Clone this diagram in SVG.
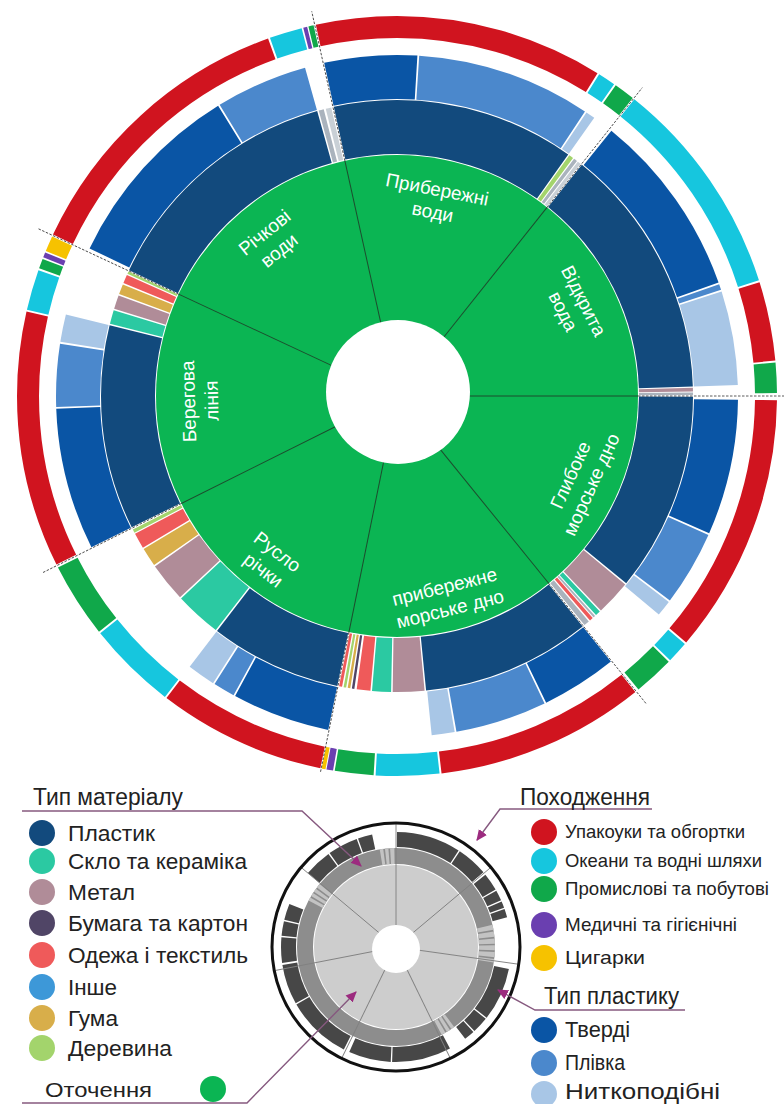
<svg xmlns="http://www.w3.org/2000/svg" width="784" height="1104" viewBox="0 0 784 1104">
<defs>
<style>
circle.m,circle.p,circle.o{fill:none}
.m{stroke-width:54}
.p{stroke-width:44}
.o{stroke-width:22}
.pl{stroke:#124a7d}.gl{stroke:#2bc9a2}.me{stroke:#b08c98}.pa{stroke:#504566}
.tx{stroke:#ef5a5a}.ru{stroke:#d8ae4a}.wo{stroke:#a3d46c}.sv{stroke:#aab3bd}.sv2{stroke:#c9d0d6}
.hd{stroke:#0a55a5}.fi{stroke:#4b88cc}.th{stroke:#a8c6e6}
.pk{stroke:#d0141f}.oc{stroke:#16c6de}.ih{stroke:#10a84a}.md{stroke:#6a3fb0}.cg{stroke:#f6c200}
.lbl text{font-family:"Liberation Sans",Arial,sans-serif;font-size:19px;fill:#fff;text-anchor:middle}
.div-in{stroke:#1d4d2e;stroke-width:1}
.div-out{stroke:#333;stroke-width:0.8;stroke-dasharray:2.5 1.5}
.mini circle.k{fill:none;stroke:#474747;stroke-width:15}
.mini circle.s{fill:none;stroke:#c3c3c3;stroke-width:16}
.leg{font-family:"Liberation Sans",Arial,sans-serif;fill:#222}
.h{font-size:23px}
.i1{font-size:22px}
.i2{font-size:18.5px}
.i3{font-size:21px}
.ptr{fill:none;stroke:#86597f;stroke-width:1.4}
</style>
<marker id="ah" viewBox="0 0 10 10" refX="9" refY="5" markerWidth="11" markerHeight="11" markerUnits="userSpaceOnUse" orient="auto">
<path d="M0,0.5 L10,5 L0,9.5 z" fill="#9c2b7f"/>
</marker>
</defs>
<rect width="784" height="1104" fill="#fff"/>

<!-- main sunburst: environment / material / plastic type / origin -->
<g id="sunburst" transform="translate(397 396)">
<circle id="environment-ring" r="241" fill="#0bb553"/>

<g id="sector-richkovi-vody">
<g transform="rotate(-90)">
<circle class="m pl" r="269" pathLength="360" stroke-dasharray="49.2 310.8" stroke-dashoffset="-295.15"/>
<circle class="m sv" r="269" pathLength="360" stroke-dasharray="1 359" stroke-dashoffset="-344.65"/>
<circle class="m sv2" r="269" pathLength="360" stroke-dasharray="1.1 358.9" stroke-dashoffset="-346.05"/>
<circle class="p hd" r="319" pathLength="360" stroke-dasharray="32.7 327.3" stroke-dashoffset="-295.65"/>
<circle class="p fi" r="319" pathLength="360" stroke-dasharray="15.7 344.3" stroke-dashoffset="-328.65"/>
<circle class="o pk" r="369" pathLength="360" stroke-dasharray="45 315" stroke-dashoffset="-295.15"/>
<circle class="o oc" r="369" pathLength="360" stroke-dasharray="5 355" stroke-dashoffset="-340.45"/>
<circle class="o md" r="369" pathLength="360" stroke-dasharray="0.6 359.4" stroke-dashoffset="-345.7"/>
<circle class="o ih" r="369" pathLength="360" stroke-dasharray="0.8 359.2" stroke-dashoffset="-346.5"/>
</g>
<g class="lbl" transform="rotate(321) translate(0 -199)"><text y="-5">Річкові</text><text y="18">води</text></g>
</g>

<g id="sector-pryberezhni-vody">
<g transform="rotate(-90)">
<circle class="m pl" r="269" pathLength="360" stroke-dasharray="47.7 312.3" stroke-dashoffset="-347.65"/>
<circle class="m wo" r="269" pathLength="360" stroke-dasharray="0.9 359.1" stroke-dashoffset="-35.6"/>
<circle class="m sv" r="269" pathLength="360" stroke-dasharray="0.7 359.3" stroke-dashoffset="-36.75"/>
<circle class="m sv2" r="269" pathLength="360" stroke-dasharray="0.7 359.3" stroke-dashoffset="-37.65"/>
<circle class="p hd" r="319" pathLength="360" stroke-dasharray="15.8 344.2" stroke-dashoffset="-347.65"/>
<circle class="p fi" r="319" pathLength="360" stroke-dasharray="29.7 330.3" stroke-dashoffset="-3.75"/>
<circle class="p th" r="319" pathLength="360" stroke-dasharray="1.6 358.4" stroke-dashoffset="-33.75"/>
<circle class="o pk" r="369" pathLength="360" stroke-dasharray="44.2 315.8" stroke-dashoffset="-347.65"/>
<circle class="o oc" r="369" pathLength="360" stroke-dasharray="2.7 357.3" stroke-dashoffset="-32.15"/>
<circle class="o ih" r="369" pathLength="360" stroke-dasharray="3.2 356.8" stroke-dashoffset="-35.15"/>
</g>
<g class="lbl" transform="rotate(11) translate(0 -199)"><text y="-5">Прибережні</text><text y="18">води</text></g>
</g>

<g id="sector-vidkryta-voda">
<g transform="rotate(-90)">
<circle class="m pl" r="269" pathLength="360" stroke-dasharray="49.5 310.5" stroke-dashoffset="-38.65"/>
<circle class="m me" r="269" pathLength="360" stroke-dasharray="0.7 359.3" stroke-dashoffset="-88.4"/>
<circle class="m sv" r="269" pathLength="360" stroke-dasharray="0.5 359.5" stroke-dashoffset="-89.3"/>
<circle class="p hd" r="319" pathLength="360" stroke-dasharray="31.6 328.4" stroke-dashoffset="-38.95"/>
<circle class="p fi" r="319" pathLength="360" stroke-dasharray="1 359" stroke-dashoffset="-70.85"/>
<circle class="p th" r="319" pathLength="360" stroke-dasharray="16 344" stroke-dashoffset="-72.15"/>
<circle class="o oc" r="369" pathLength="360" stroke-dasharray="33.6 326.4" stroke-dashoffset="-38.65"/>
<circle class="o pk" r="369" pathLength="360" stroke-dasharray="12.1 347.9" stroke-dashoffset="-72.55"/>
<circle class="o ih" r="369" pathLength="360" stroke-dasharray="4.6 355.4" stroke-dashoffset="-84.95"/>
</g>
<g class="lbl" transform="rotate(63) translate(0 -198)"><text y="-5">Відкрита</text><text y="18">вода</text></g>
</g>

<g id="sector-hlyboke-dno">
<g transform="rotate(-90)">
<circle class="m pl" r="269" pathLength="360" stroke-dasharray="39.1 320.9" stroke-dashoffset="-90.15"/>
<circle class="m me" r="269" pathLength="360" stroke-dasharray="6.9 353.1" stroke-dashoffset="-129.55"/>
<circle class="m gl" r="269" pathLength="360" stroke-dasharray="1 359" stroke-dashoffset="-136.75"/>
<circle class="m sv" r="269" pathLength="360" stroke-dasharray="0.4 359.6" stroke-dashoffset="-138"/>
<circle class="m tx" r="269" pathLength="360" stroke-dasharray="0.7 359.3" stroke-dashoffset="-138.6"/>
<circle class="m sv" r="269" pathLength="360" stroke-dasharray="1.1 358.9" stroke-dashoffset="-139.6"/>
<circle class="p hd" r="319" pathLength="360" stroke-dasharray="23.1 336.9" stroke-dashoffset="-90.65"/>
<circle class="p fi" r="319" pathLength="360" stroke-dasharray="12.8 347.2" stroke-dashoffset="-114.05"/>
<circle class="p th" r="319" pathLength="360" stroke-dasharray="2.7 357.3" stroke-dashoffset="-127.15"/>
<circle class="o pk" r="369" pathLength="360" stroke-dasharray="39.8 320.2" stroke-dashoffset="-90.65"/>
<circle class="o oc" r="369" pathLength="360" stroke-dasharray="3.3 356.7" stroke-dashoffset="-130.75"/>
<circle class="o ih" r="369" pathLength="360" stroke-dasharray="6.2 353.8" stroke-dashoffset="-134.35"/>
</g>
<g class="lbl" transform="rotate(114.5) translate(0 -202) rotate(180)"><text y="-5">Глибоке</text><text y="18">морське дно</text></g>
</g>

<g id="sector-pryberezhne-dno">
<g transform="rotate(-90)">
<circle class="m pl" r="269" pathLength="360" stroke-dasharray="33.2 326.8" stroke-dashoffset="-141.15"/>
<circle class="m me" r="269" pathLength="360" stroke-dasharray="6.2 353.8" stroke-dashoffset="-174.65"/>
<circle class="m gl" r="269" pathLength="360" stroke-dasharray="3.7 356.3" stroke-dashoffset="-181.15"/>
<circle class="m tx" r="269" pathLength="360" stroke-dasharray="2.7 357.3" stroke-dashoffset="-185.15"/>
<circle class="m pa" r="269" pathLength="360" stroke-dasharray="0.5 359.5" stroke-dashoffset="-188.3"/>
<circle class="m ru" r="269" pathLength="360" stroke-dasharray="0.5 359.5" stroke-dashoffset="-189.1"/>
<circle class="m wo" r="269" pathLength="360" stroke-dasharray="0.5 359.5" stroke-dashoffset="-189.9"/>
<circle class="m tx" r="269" pathLength="360" stroke-dasharray="0.6 359.4" stroke-dashoffset="-190.7"/>
<circle class="p hd" r="319" pathLength="360" stroke-dasharray="12.9 347.1" stroke-dashoffset="-141.15"/>
<circle class="p fi" r="319" pathLength="360" stroke-dasharray="15.6 344.4" stroke-dashoffset="-154.35"/>
<circle class="p th" r="319" pathLength="360" stroke-dasharray="3.9 356.1" stroke-dashoffset="-170.25"/>
<circle class="o pk" r="369" pathLength="360" stroke-dasharray="32.1 327.9" stroke-dashoffset="-141.15"/>
<circle class="o oc" r="369" pathLength="360" stroke-dasharray="9.7 350.3" stroke-dashoffset="-173.55"/>
<circle class="o ih" r="369" pathLength="360" stroke-dasharray="5.9 354.1" stroke-dashoffset="-183.55"/>
<circle class="o md" r="369" pathLength="360" stroke-dasharray="1 359" stroke-dashoffset="-189.7"/>
<circle class="o cg" r="369" pathLength="360" stroke-dasharray="0.6 359.4" stroke-dashoffset="-190.85"/>
</g>
<g class="lbl" transform="rotate(166) translate(0 -208) rotate(180)"><text y="-5">прибережне</text><text y="18">морське дно</text></g>
</g>

<g id="sector-ruslo-richky">
<g transform="rotate(-90)">
<circle class="m pl" r="269" pathLength="360" stroke-dasharray="25.8 334.2" stroke-dashoffset="-191.65"/>
<circle class="m gl" r="269" pathLength="360" stroke-dasharray="9.1 350.9" stroke-dashoffset="-217.75"/>
<circle class="m me" r="269" pathLength="360" stroke-dasharray="7.7 352.3" stroke-dashoffset="-227.15"/>
<circle class="m ru" r="269" pathLength="360" stroke-dasharray="3.7 356.3" stroke-dashoffset="-235.15"/>
<circle class="m tx" r="269" pathLength="360" stroke-dasharray="3.1 356.9" stroke-dashoffset="-239.15"/>
<circle class="m wo" r="269" pathLength="360" stroke-dasharray="0.7 359.3" stroke-dashoffset="-242.5"/>
<circle class="p hd" r="319" pathLength="360" stroke-dasharray="16.7 343.3" stroke-dashoffset="-191.65"/>
<circle class="p fi" r="319" pathLength="360" stroke-dasharray="3.7 356.3" stroke-dashoffset="-208.65"/>
<circle class="p th" r="319" pathLength="360" stroke-dasharray="4.8 355.2" stroke-dashoffset="-212.65"/>
<circle class="o pk" r="369" pathLength="360" stroke-dasharray="25.7 334.3" stroke-dashoffset="-191.65"/>
<circle class="o oc" r="369" pathLength="360" stroke-dasharray="13.7 346.3" stroke-dashoffset="-217.65"/>
<circle class="o ih" r="369" pathLength="360" stroke-dasharray="11.5 348.5" stroke-dashoffset="-231.65"/>
</g>
<g class="lbl" transform="rotate(217.5) translate(0 -208) rotate(180)"><text y="-5">Русло</text><text y="18">річки</text></g>
</g>

<g id="sector-berehova-liniia">
<g transform="rotate(-90)">
<circle class="m pl" r="269" pathLength="360" stroke-dasharray="40.2 319.8" stroke-dashoffset="-243.65"/>
<circle class="m gl" r="269" pathLength="360" stroke-dasharray="2.7 357.3" stroke-dashoffset="-284.15"/>
<circle class="m me" r="269" pathLength="360" stroke-dasharray="2.7 357.3" stroke-dashoffset="-287.15"/>
<circle class="m ru" r="269" pathLength="360" stroke-dasharray="2 358" stroke-dashoffset="-290.15"/>
<circle class="m tx" r="269" pathLength="360" stroke-dasharray="1.7 358.3" stroke-dashoffset="-292.45"/>
<circle class="m wo" r="269" pathLength="360" stroke-dasharray="0.5 359.5" stroke-dashoffset="-294.4"/>
<circle class="p hd" r="319" pathLength="360" stroke-dasharray="24.2 335.8" stroke-dashoffset="-243.65"/>
<circle class="p fi" r="319" pathLength="360" stroke-dasharray="10.7 349.3" stroke-dashoffset="-268.15"/>
<circle class="p th" r="319" pathLength="360" stroke-dasharray="4.7 355.3" stroke-dashoffset="-279.15"/>
<circle class="o pk" r="369" pathLength="360" stroke-dasharray="39.2 320.8" stroke-dashoffset="-243.65"/>
<circle class="o oc" r="369" pathLength="360" stroke-dasharray="6.2 353.8" stroke-dashoffset="-283.15"/>
<circle class="o ih" r="369" pathLength="360" stroke-dasharray="1.5 358.5" stroke-dashoffset="-289.65"/>
<circle class="o md" r="369" pathLength="360" stroke-dasharray="0.8 359.2" stroke-dashoffset="-291.4"/>
<circle class="o cg" r="369" pathLength="360" stroke-dasharray="2.4 357.6" stroke-dashoffset="-292.45"/>
</g>
<g class="lbl" transform="rotate(268.5) translate(0 -197)"><text y="-5">Берегова</text><text y="18">лінія</text></g>
</g>

<!-- sector boundaries -->
<g id="dividers">
<g transform="rotate(295)"><line class="div-in" x1="0" y1="-60" x2="0" y2="-241"/><line class="div-out" x1="0" y1="-241" x2="0" y2="-397"/></g>
<g transform="rotate(347.5)"><line class="div-in" x1="0" y1="-60" x2="0" y2="-241"/><line class="div-out" x1="0" y1="-241" x2="0" y2="-394"/></g>
<g transform="rotate(38.5)"><line class="div-in" x1="0" y1="-60" x2="0" y2="-241"/><line class="div-out" x1="0" y1="-241" x2="0" y2="-394"/></g>
<g transform="rotate(90)"><line class="div-in" x1="0" y1="-60" x2="0" y2="-241"/><line class="div-out" x1="0" y1="-241" x2="0" y2="-387"/></g>
<g transform="rotate(141)"><line class="div-in" x1="0" y1="-60" x2="0" y2="-241"/><line class="div-out" x1="0" y1="-241" x2="0" y2="-397"/></g>
<g transform="rotate(191.5)"><line class="div-in" x1="0" y1="-60" x2="0" y2="-241"/><line class="div-out" x1="0" y1="-241" x2="0" y2="-384"/></g>
<g transform="rotate(243.5)"><line class="div-in" x1="0" y1="-60" x2="0" y2="-241"/><line class="div-out" x1="0" y1="-241" x2="0" y2="-397"/></g>
</g>
</g>
<circle id="hole" cx="398" cy="392" r="72" fill="#fff"/>

<!-- small grey key chart -->
<g id="mini-chart" class="mini" transform="translate(396 947)">
<circle r="82" fill="#cdcdcd"/>
<circle r="91" fill="none" stroke="#8d8d8d" stroke-width="16"/>
<g transform="rotate(-90)">
<circle class="s" r="91" pathLength="360" stroke-dasharray="2 1 2 1 2 1 2.5 348.5" stroke-dashoffset="-298"/>
<circle class="s" r="91" pathLength="360" stroke-dasharray="2 1 2 1 2.5 351.5" stroke-dashoffset="-350.5"/>
<circle class="s" r="91" pathLength="360" stroke-dasharray="3 1 3 1 3 1 3 1 3 1 2 338" stroke-dashoffset="-77"/>
<circle class="s" r="91" pathLength="360" stroke-dasharray="2 1 2 1 2.5 351.5" stroke-dashoffset="-144"/>
<circle class="k" r="107.5" pathLength="360" stroke-dasharray="14 346" stroke-dashoffset="-310"/>
<circle class="k" r="107.5" pathLength="360" stroke-dasharray="15.3 344.7" stroke-dashoffset="-324.7"/>
<circle class="k" r="107.5" pathLength="360" stroke-dasharray="7.3 352.7" stroke-dashoffset="-340.7"/>
<circle class="k" r="107.5" pathLength="360" stroke-dasharray="32.5 327.5" stroke-dashoffset="-0.5"/>
<circle class="k" r="107.5" pathLength="360" stroke-dasharray="15.8 344.2" stroke-dashoffset="-33.7"/>
<circle class="k" r="107.5" pathLength="360" stroke-dasharray="9 351" stroke-dashoffset="-51"/>
<circle class="k" r="107.5" pathLength="360" stroke-dasharray="5.3 354.7" stroke-dashoffset="-60.7"/>
<circle class="k" r="107.5" pathLength="360" stroke-dasharray="3.3 356.7" stroke-dashoffset="-66.7"/>
<circle class="k" r="107.5" pathLength="360" stroke-dasharray="4.3 355.7" stroke-dashoffset="-70.7"/>
<circle class="k" r="107.5" pathLength="360" stroke-dasharray="27 333" stroke-dashoffset="-101"/>
<circle class="k" r="107.5" pathLength="360" stroke-dasharray="8.3 351.7" stroke-dashoffset="-128.7"/>
<circle class="k" r="107.5" pathLength="360" stroke-dasharray="5.3 354.7" stroke-dashoffset="-137.7"/>
<circle class="k" r="107.5" pathLength="360" stroke-dasharray="30 330" stroke-dashoffset="-152"/>
<circle class="k" r="107.5" pathLength="360" stroke-dasharray="21.3 338.7" stroke-dashoffset="-182.7"/>
<circle class="k" r="107.5" pathLength="360" stroke-dasharray="33 327" stroke-dashoffset="-207"/>
<circle class="k" r="107.5" pathLength="360" stroke-dasharray="20.3 339.7" stroke-dashoffset="-240.7"/>
<circle class="k" r="107.5" pathLength="360" stroke-dasharray="13 347" stroke-dashoffset="-262"/>
<circle class="k" r="107.5" pathLength="360" stroke-dasharray="7.3 352.7" stroke-dashoffset="-275.7"/>
<circle class="k" r="107.5" pathLength="360" stroke-dasharray="8.3 351.7" stroke-dashoffset="-283.7"/>
</g>
<g stroke="#808080" stroke-width="0.9">
<line x1="0" y1="-22" x2="0" y2="-123"/>
<line x1="0" y1="-22" x2="0" y2="-123" transform="rotate(50)"/>
<line x1="0" y1="-22" x2="0" y2="-123" transform="rotate(98)"/>
<line x1="0" y1="-22" x2="0" y2="-123" transform="rotate(154)"/>
<line x1="0" y1="-22" x2="0" y2="-123" transform="rotate(206)"/>
<line x1="0" y1="-22" x2="0" y2="-123" transform="rotate(259)"/>
<line x1="0" y1="-22" x2="0" y2="-123" transform="rotate(310)"/>
</g>
<circle r="24" cy="2" fill="#fff"/>
<circle r="124" fill="none" stroke="#111" stroke-width="3"/>
</g>

<!-- pointers from the keys to the grey chart -->
<g id="connectors">
<polyline class="ptr" points="22,811 302,811 361,866" marker-end="url(#ah)"/>
<polyline class="ptr" points="22,1103 247,1103 356,992" marker-end="url(#ah)"/>
<polyline class="ptr" points="652,809 500,809 477,840" marker-end="url(#ah)"/>
<polyline class="ptr" points="685,1010 535,1010 498,990" marker-end="url(#ah)"/>
</g>

<g id="key-material" class="leg">
<text class="h" x="33" y="805" textLength="150" lengthAdjust="spacingAndGlyphs">Тип матеріалу</text>
<circle cx="42" cy="833" r="13" fill="#124a7d"/><text class="i1" x="68" y="841" textLength="87" lengthAdjust="spacingAndGlyphs">Пластик</text>
<circle cx="42" cy="861" r="13" fill="#2bc9a2"/><text class="i1" x="68" y="869" textLength="179" lengthAdjust="spacingAndGlyphs">Скло та кераміка</text>
<circle cx="42" cy="892" r="13" fill="#b08c98"/><text class="i1" x="68" y="900" textLength="67" lengthAdjust="spacingAndGlyphs">Метал</text>
<circle cx="42" cy="923" r="13" fill="#504566"/><text class="i1" x="68" y="931" textLength="180" lengthAdjust="spacingAndGlyphs">Бумага та картон</text>
<circle cx="42" cy="955" r="13" fill="#ef5a5a"/><text class="i1" x="68" y="963" textLength="180" lengthAdjust="spacingAndGlyphs">Одежа і текстиль</text>
<circle cx="42" cy="987" r="13" fill="#3d98d8"/><text class="i1" x="68" y="995" textLength="49" lengthAdjust="spacingAndGlyphs">Інше</text>
<circle cx="42" cy="1018" r="13" fill="#d8ae4a"/><text class="i1" x="68" y="1026" textLength="50" lengthAdjust="spacingAndGlyphs">Гума</text>
<circle cx="42" cy="1048" r="13" fill="#a3d46c"/><text class="i1" x="68" y="1056" textLength="104" lengthAdjust="spacingAndGlyphs">Деревина</text>
</g>
<g id="key-environment" class="leg">
<text class="i3" x="45" y="1097" textLength="107" lengthAdjust="spacingAndGlyphs">Оточення</text>
<circle cx="213" cy="1089" r="13" fill="#0bb553"/>
</g>
<g id="key-origin" class="leg">
<text class="h" x="520" y="805" textLength="130" lengthAdjust="spacingAndGlyphs">Походження</text>
<circle cx="544" cy="832" r="13" fill="#d0141f"/><text class="i2" x="565" y="838" textLength="180" lengthAdjust="spacingAndGlyphs">Упакоуки та обгортки</text>
<circle cx="544" cy="861" r="13" fill="#16c6de"/><text class="i2" x="565" y="867" textLength="197" lengthAdjust="spacingAndGlyphs">Океани та водні шляхи</text>
<circle cx="544" cy="889" r="13" fill="#10a84a"/><text class="i2" x="565" y="895" textLength="204" lengthAdjust="spacingAndGlyphs">Промислові та побутові</text>
<circle cx="544" cy="925" r="13" fill="#6a3fb0"/><text class="i2" x="565" y="931" textLength="172" lengthAdjust="spacingAndGlyphs">Медичні та гігієнічні</text>
<circle cx="544" cy="958" r="13" fill="#f6c200"/><text class="i2" x="565" y="964" textLength="80" lengthAdjust="spacingAndGlyphs">Цигарки</text>
</g>
<g id="key-plastic" class="leg">
<text class="h" x="544" y="1004" textLength="135" lengthAdjust="spacingAndGlyphs">Тип пластику</text>
<circle cx="544" cy="1030" r="13" fill="#0a55a5"/><text class="i1" x="565" y="1037" textLength="65" lengthAdjust="spacingAndGlyphs">Тверді</text>
<circle cx="544" cy="1063" r="13" fill="#4b88cc"/><text class="i1" x="565" y="1070" textLength="60" lengthAdjust="spacingAndGlyphs">Плівка</text>
<circle cx="544" cy="1094" r="13" fill="#a8c6e6"/><text class="i1" x="565" y="1099" textLength="155" lengthAdjust="spacingAndGlyphs">Ниткоподібні</text>
</g>
</svg>
